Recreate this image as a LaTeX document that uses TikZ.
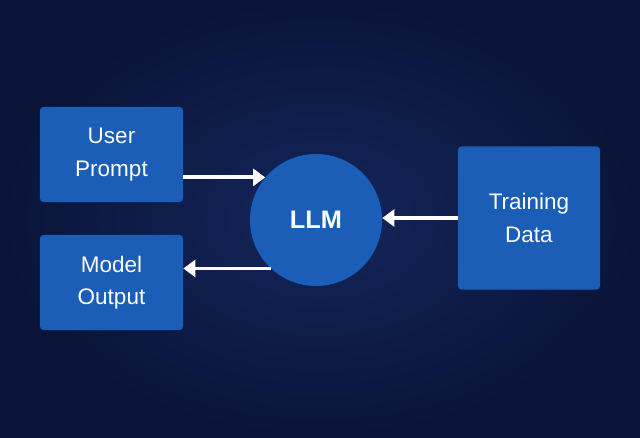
\documentclass[tikz,border=0pt]{standalone}
\usepackage{fontspec}
\setmainfont{Liberation Sans}
\usetikzlibrary{arrows.meta, shapes.geometric}
\definecolor{navy1}{RGB}{10,20,56}
\definecolor{navy2}{RGB}{19,38,92}
\definecolor{blue1}{RGB}{26,94,184}

\begin{document}
\begin{tikzpicture}[x=0.025cm, y=-0.025cm,
    block/.style={draw=none, fill=blue1, rounded corners=2.5pt, minimum width=3.575cm, minimum height=2.375cm,
      text=white, align=center, font=\fontsize{16}{23}\selectfont},
    model/.style={circle, draw=none, fill=blue1, minimum size=3.3cm, text=white,
      font=\fontsize{18}{22}\selectfont\bfseries},
    flowarrow/.style={draw=white, line width=2.8pt, -{Triangle[length=0.3cm, width=0.42cm]}}
]
        % background
        \shade[inner color=navy2, outer color=navy1] (0,0) rectangle (640,438);
        \useasboundingbox (0,0) rectangle (640,438);

        \node[block, name=prompt] at(111.5,154.5) {User\\Prompt};
        \node[block, name=output] at(111.5,282.5) {Model\\Output};
        \node[model, name=llm] at(316,220) {LLM};
        \node[block, name=data, minimum width=3.55cm, minimum height=3.575cm] at(529,218) {Training\\Data};

        \draw[flowarrow] (prompt.east |- llm.140) -- (llm.140);
        \draw[flowarrow] (llm.227) -- (llm.227 -| output.east);
        \draw[flowarrow] (data.west) -- (llm.east |- data.west);
\end{tikzpicture}
\end{document}
